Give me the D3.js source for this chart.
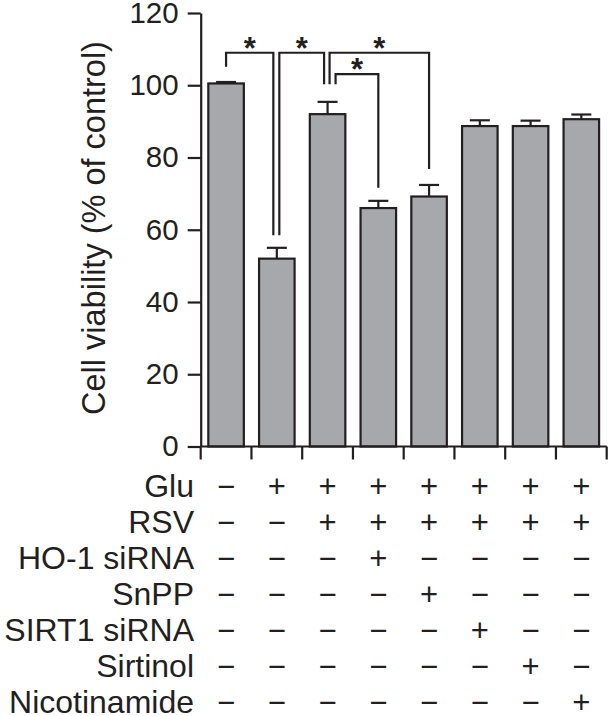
<!DOCTYPE html>
<html>
<head>
<meta charset="utf-8">
<script src="https://cdn.jsdelivr.net/npm/d3@7"></script>
<style>
  html, body { margin: 0; padding: 0; background: #fff; }
  svg text { font-family: "Liberation Sans", Arial, Helvetica, sans-serif; fill: #231f20; }
</style>
</head>
<body>
<svg id="chart" width="608" height="716"></svg>
<script>
// ---- data ----
const groups = ["G1", "G2", "G3", "G4", "G5", "G6", "G7", "G8"];
const viability = [100.5, 52.0, 92.0, 66.0, 69.2, 88.7, 88.7, 90.6];
const errors = [0.4, 3.0, 3.4, 2.0, 3.2, 1.6, 1.5, 1.3];
const yTicks = [0, 20, 40, 60, 80, 100, 120];
const yLabel = "Cell viability (% of control)";

const rowLabels = ["Glu", "RSV", "HO-1 siRNA", "SnPP", "SIRT1 siRNA", "Sirtinol", "Nicotinamide"];
const rowGlu          = ["−", "+", "+", "+", "+", "+", "+", "+"];
const rowRSV          = ["−", "−", "+", "+", "+", "+", "+", "+"];
const rowHO1          = ["−", "−", "−", "+", "−", "−", "−", "−"];
const rowSnPP         = ["−", "−", "−", "−", "+", "−", "−", "−"];
const rowSIRT1        = ["−", "−", "−", "−", "−", "+", "−", "−"];
const rowSirtinol     = ["−", "−", "−", "−", "−", "−", "+", "−"];
const rowNicotinamide = ["−", "−", "−", "−", "−", "−", "−", "+"];
const rows = [rowGlu, rowRSV, rowHO1, rowSnPP, rowSIRT1, rowSirtinol, rowNicotinamide];

// significance brackets: group indices, bracket level and leg end values (data units)
const bracketFrom  = [0, 1, 2, 2];
const bracketTo    = [1, 2, 4, 3];
const bracketLevel = [109.0, 109.0, 109.0, 103.1];
const bracketEndA  = [105.1, 58.5, 100.3, 100.3];
const bracketEndB  = [58.5, 100.3, 76.8, 71.6];
const bracketShiftA = [0, 2.5, 2, 8];
const bracketShiftB = [-3.5, -3.5, 0, 0];
const bracketLabel = ["*", "*", "*", "*"];

// ---- layout ----
const svg = d3.select("#chart");
const ink = "#231f20";
const x = d3.scaleBand().domain(groups).range([200.7, 606.7]).padding(0);
const y = d3.scaleLinear().domain([0, 120]).range([446.5, 13]);
const barW = x.bandwidth() * 0.70;

// bars
svg.append("g").selectAll("rect").data(viability).join("rect")
  .attr("x", (d, i) => x(groups[i]) + (x.bandwidth() - barW) / 2)
  .attr("y", d => y(d))
  .attr("width", barW)
  .attr("height", d => y(0) - y(d))
  .attr("fill", "#a7a8ab")
  .attr("stroke", ink)
  .attr("stroke-width", 2.2);

// error bars
const eg = svg.append("g").attr("stroke", ink).attr("stroke-width", 2.2);
viability.forEach((v, i) => {
  const cx = x(groups[i]) + x.bandwidth() / 2;
  eg.append("line").attr("x1", cx).attr("x2", cx).attr("y1", y(v)).attr("y2", y(v + errors[i]));
  eg.append("line").attr("x1", cx - 10).attr("x2", cx + 10).attr("y1", y(v + errors[i])).attr("y2", y(v + errors[i]));
});

// y axis
const yAxis = d3.axisLeft(y).tickValues(yTicks).tickSize(13).tickPadding(9).tickSizeOuter(0);
const ya = svg.append("g").attr("transform", "translate(200.7,0)").call(yAxis);
ya.select(".domain").attr("stroke", ink).attr("stroke-width", 2.2);
ya.selectAll(".tick line").attr("stroke", ink).attr("stroke-width", 2.2);
ya.selectAll(".tick text").attr("font-size", 29.5).attr("fill", ink)
  .attr("font-family", "Liberation Sans, Arial, sans-serif");

// x axis: baseline with ticks at band boundaries
const xa = svg.append("g").attr("stroke", ink).attr("stroke-width", 2.2);
xa.append("line").attr("x1", x.range()[0]).attr("x2", x.range()[1]).attr("y1", y(0)).attr("y2", y(0));
const bounds = groups.map(g => x(g)).concat([x.range()[1]]);
xa.selectAll("line.tk").data(bounds).join("line").attr("class", "tk")
  .attr("x1", d => d).attr("x2", d => d).attr("y1", y(0)).attr("y2", y(0) + 13);

// y label
svg.append("text")
  .attr("transform", "translate(105,228) rotate(-90)")
  .attr("text-anchor", "middle")
  .attr("font-size", 32.5)
  .text(yLabel);

// brackets
const bg = svg.append("g");
bracketFrom.forEach((f, i) => {
  const xa1 = x(groups[f]) + x.bandwidth() / 2 + bracketShiftA[i];
  const xb1 = x(groups[bracketTo[i]]) + x.bandwidth() / 2 + bracketShiftB[i];
  const p = d3.path();
  p.moveTo(xa1, y(bracketEndA[i]));
  p.lineTo(xa1, y(bracketLevel[i]));
  p.lineTo(xb1, y(bracketLevel[i]));
  p.lineTo(xb1, y(bracketEndB[i]));
  bg.append("path").attr("d", p.toString()).attr("fill", "none")
    .attr("stroke", ink).attr("stroke-width", 2.2);
  bg.append("text").attr("x", (xa1 + xb1) / 2).attr("y", y(bracketLevel[i]) + 6)
    .attr("text-anchor", "middle").attr("font-size", 31).attr("font-weight", "bold")
    .text(bracketLabel[i]);
});

// condition table
const rowY0 = 497, rowStep = 36;
const tg = svg.append("g");
rowLabels.forEach((lab, r) => {
  tg.append("text").attr("x", 194).attr("y", rowY0 + r * rowStep)
    .attr("text-anchor", "end").attr("font-size", 32).text(lab);
  rows[r].forEach((s, c) => {
    tg.append("text").attr("x", x(groups[c]) + x.bandwidth() / 2)
      .attr("y", rowY0 + r * rowStep)
      .attr("text-anchor", "middle").attr("font-size", 31).text(s);
  });
});
</script>
</body>
</html>
